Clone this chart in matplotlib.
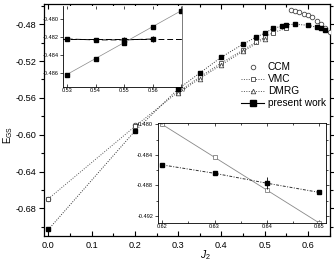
import matplotlib
matplotlib.use("Agg")
import matplotlib.pyplot as plt
from matplotlib.ticker import MultipleLocator

plt.rcParams['font.family'] = ['Liberation Sans', 'DejaVu Sans']
plt.rcParams['mathtext.fontset'] = 'custom'
plt.rcParams['mathtext.rm'] = 'Liberation Sans'
plt.rcParams['mathtext.it'] = 'Liberation Sans:italic'

# ---- main data ----
ccm_j2 = [0.0, 0.2, 0.56, 0.57, 0.58, 0.59, 0.60, 0.61, 0.62, 0.63, 0.64, 0.65]
ccm_e = [-0.6696, -0.590, -0.465, -0.4655, -0.467, -0.4685, -0.470, -0.4725, -0.476, -0.4795, -0.484, -0.488]

vmc_j2 = [0.0, 0.2, 0.3, 0.35, 0.4, 0.45, 0.48, 0.5, 0.52, 0.55]
vmc_e = [-0.6696, -0.591, -0.5535, -0.5373, -0.522, -0.508, -0.4995, -0.494, -0.489, -0.4845]

dmrg_j2 = [0.3, 0.35, 0.4, 0.45, 0.5]
dmrg_e = [-0.555, -0.539, -0.524, -0.5095, -0.4955]

pw_j2 = [0.0, 0.2, 0.3, 0.35, 0.4, 0.45, 0.48, 0.5, 0.52, 0.54, 0.55, 0.57, 0.6, 0.62, 0.63, 0.64]
pw_e = [-0.703, -0.596, -0.5503, -0.533, -0.5157, -0.5016, -0.494, -0.4897, -0.4843,
        -0.4822, -0.4805, -0.480, -0.4811, -0.4832, -0.4843, -0.486]

# ---- inset 1 data ----
in1_j2 = [0.53, 0.54, 0.55, 0.56]
in1_flat = [-0.4822, -0.4823, -0.4823, -0.4822]
in1_flat_err = [0.0002, 0.0002, 0.0003, 0.0003]
in1_rise_j2 = [0.53, 0.54, 0.55, 0.56, 0.57]
in1_rise = [-0.4862, -0.4844, -0.4826, -0.4808, -0.4790]
in1_rise_err = [0.0002, 0.0002, 0.0002, 0.0002, 0.0001]

# ---- inset 2 data ----
in2_j2 = [0.62, 0.63, 0.64, 0.65]
in2_pw = [-0.4853, -0.4864, -0.4877, -0.4889]
in2_pw_err = [0.0, 0.0, 0.0008, 0.0]
in2_vmc = [-0.4800, -0.4843, -0.4886, -0.4929]

fig = plt.figure(figsize=(3.34, 2.66), dpi=100)
ax = fig.add_axes([0.132, 0.113, 0.856, 0.872])

lc = '#555555'
ms = 3.3
ax.plot(ccm_j2, ccm_e, linestyle='none', marker='o', mfc='white', mec='#444444',
        ms=ms, mew=0.6, label='CCM', zorder=3)
ax.plot(vmc_j2, vmc_e, linestyle=(0, (1, 1.5)), color=lc, lw=0.7, marker='s',
        mfc='white', mec='#444444', ms=ms, mew=0.6, label='VMC', zorder=3)
ax.plot(dmrg_j2, dmrg_e, linestyle=(0, (1, 1.5)), color=lc, lw=0.7, marker='^',
        mfc='white', mec='#444444', ms=ms, mew=0.6, label='DMRG', zorder=3)
ax.plot(pw_j2, pw_e, linestyle=(0, (1, 1.5)), color='#333333', lw=0.7, marker='s',
        mfc='black', mec='black', ms=ms, zorder=4)
ax.plot([], [], linestyle='-', color='black', lw=0.8, marker='s', mfc='black',
        mec='black', ms=4, label='present work')

ax.set_xlim(-0.01, 0.651)
ax.set_ylim(-0.71, -0.458)
ax.xaxis.set_major_locator(MultipleLocator(0.1))
ax.xaxis.set_minor_locator(MultipleLocator(0.05))
ax.yaxis.set_major_locator(MultipleLocator(0.04))
ax.yaxis.set_minor_locator(MultipleLocator(0.02))
ax.xaxis.set_major_formatter(plt.FuncFormatter(lambda v, p: f'{v:.1f}'))
ax.yaxis.set_major_formatter(plt.FuncFormatter(lambda v, p: f'{v:.2f}'))
ax.tick_params(axis='both', which='both', labelsize=6.6, top=True, right=True,
               direction='in', width=0.8)
ax.tick_params(axis='both', which='major', length=3.5)
ax.tick_params(axis='both', which='minor', length=2)
ax.tick_params(axis='y', which='both', left=True, direction='out', pad=2)
ax.tick_params(axis='y', which='both', right=True)
for s in ax.spines.values():
    s.set_linewidth(0.9)

ax.set_xlabel(r'$J_{2}$', fontsize=7.5)
ax.xaxis.set_label_coords(0.563, -0.055)
ax.set_ylabel(r'$\mathrm{E}_{\mathrm{GS}}$', fontsize=7)
ax.yaxis.set_label_coords(-0.100, 0.435)

leg = ax.legend(loc='upper right', bbox_to_anchor=(1.01, 0.78), fontsize=7.3,
                frameon=False, handlelength=2.2, handletextpad=0.4,
                labelspacing=0.2, borderpad=0.2)

# ---- inset 1 ----
a1 = fig.add_axes([0.189, 0.673, 0.356, 0.304])
a1.errorbar(in1_j2, in1_flat, yerr=in1_flat_err, linestyle=(0, (6, 3)), color='black',
            lw=0.7, marker='s', ms=2.5, mfc='black', mec='black', capsize=0,
            elinewidth=0.6)
a1.plot([0.525, 0.575], [in1_flat[0], in1_flat[-1]], linestyle=(0, (6, 3)),
        color='black', lw=0.7)
a1.errorbar(in1_rise_j2, in1_rise, yerr=in1_rise_err, linestyle='-', color='#888888',
            lw=0.5, marker='s', ms=2.5, mfc='black', mec='black', capsize=0,
            ecolor='black', elinewidth=0.6)
a1.plot([0.57, 0.575], [in1_rise[-1], in1_rise[-1] + 0.0009], '-', color='#888888', lw=0.5)
a1.set_xlim(0.5287, 0.5702)
a1.set_ylim(-0.4876, -0.4785)
a1.set_xticks([0.53, 0.54, 0.55, 0.56, 0.57])
a1.set_xticklabels(['0.53', '0.54', '0.55', '0.56', '0.57'])
a1.set_yticks([-0.480, -0.482, -0.484, -0.486])
a1.set_yticklabels(['-0.480', '-0.482', '-0.484', '-0.486'])
a1.tick_params(axis='both', labelsize=4, length=2, width=0.5, pad=1, top=True,
               right=False, direction='in')
a1.tick_params(axis='y', direction='out')
for s in a1.spines.values():
    s.set_linewidth(0.6)
a1.spines['top'].set_visible(False)
a1.spines['right'].set_color('#666666')

# ---- inset 2 ----
a2 = fig.add_axes([0.473, 0.162, 0.503, 0.376])
a2.plot(in2_j2, in2_vmc, linestyle='-', color='#888888', lw=0.6, marker='s', ms=2.5,
        mfc='white', mec='#666666', mew=0.5)
a2.plot([0.6185, 0.62], [in2_vmc[0] + 0.00065, in2_vmc[0]], '-', color='#888888', lw=0.6)
a2.errorbar(in2_j2, in2_pw, yerr=in2_pw_err, linestyle=(0, (3, 1.5, 1, 1.5)),
            color='#333333', lw=0.7, marker='s', ms=3, mfc='black', mec='black',
            capsize=0, ecolor='black', elinewidth=0.6)
a2.set_xlim(0.6192, 0.6513)
a2.set_ylim(-0.4929, -0.4798)
a2.set_xticks([0.62, 0.63, 0.64, 0.65])
a2.set_xticklabels(['0.62', '0.63', '0.64', '0.65'])
a2.xaxis.set_minor_locator(MultipleLocator(0.005))
a2.set_yticks([-0.480, -0.484, -0.488, -0.492])
a2.set_yticklabels(['-0.480', '-0.484', '-0.488', '-0.492'])
a2.yaxis.set_minor_locator(MultipleLocator(0.002))
a2.tick_params(axis='both', which='both', labelsize=4, width=0.5, pad=1, top=True,
               right=True, direction='in')
a2.tick_params(axis='both', which='major', length=2.5)
a2.tick_params(axis='both', which='minor', length=1.5)
a2.tick_params(axis='y', which='both', direction='out')
for s in a2.spines.values():
    s.set_linewidth(0.6)

fig.savefig('out.png', dpi=100)
